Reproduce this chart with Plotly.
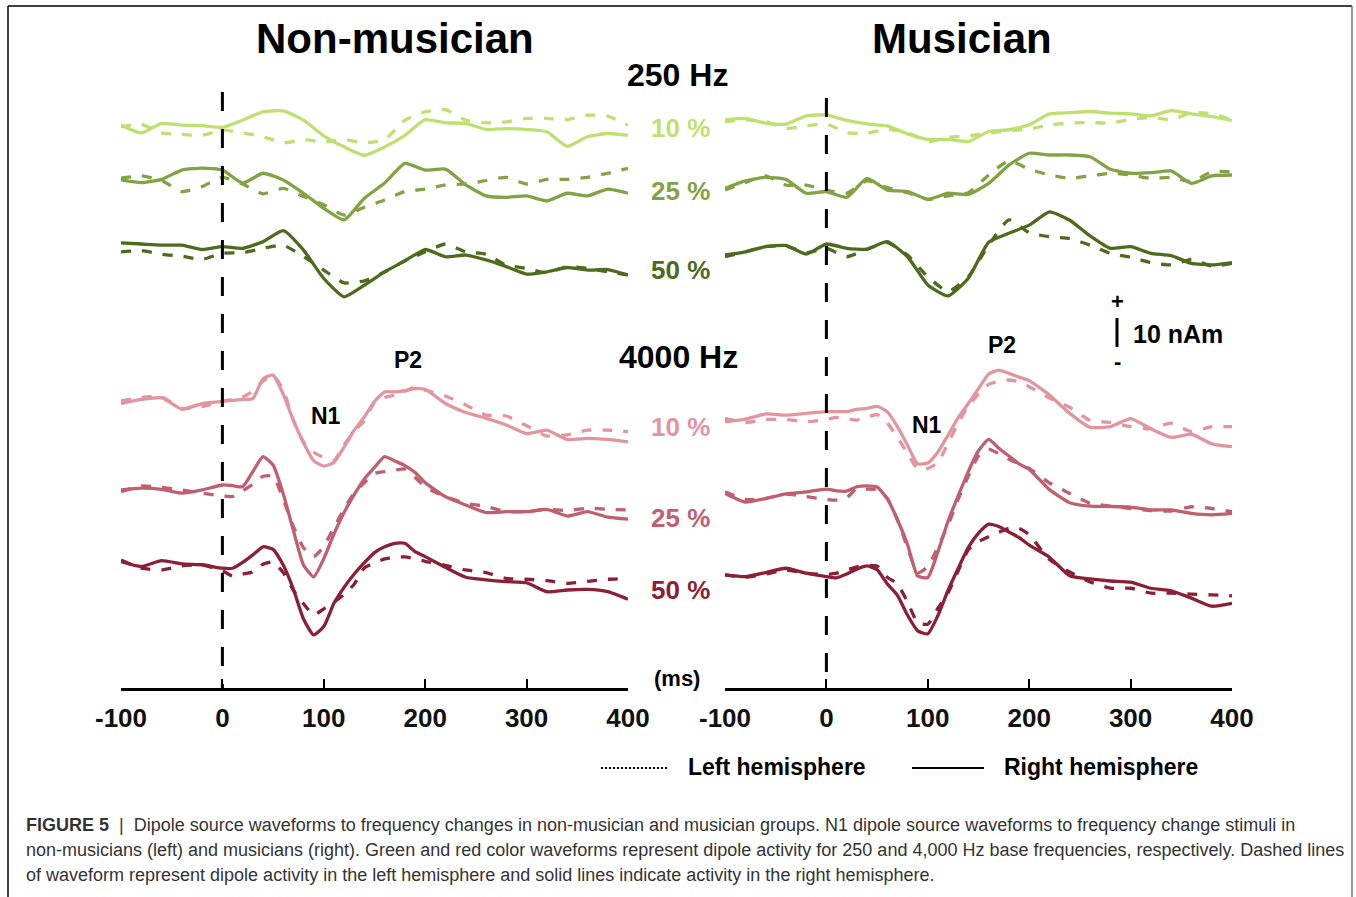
import plotly.graph_objects as go

W, H = 1356, 897
FONT = "Liberation Sans, Arial, sans-serif"

# ---------------- DATA (amplitudes in nAm, time in ms) ----------------
time_250 = [-100, -80, -60, -40, -20, 0, 20, 40, 60, 80, 100, 120, 140, 160, 180,
            200, 220, 240, 260, 280, 300, 320, 340, 360, 380, 400]
time_4000 = [-100, -80, -60, -40, -20, 0, 10, 20, 30, 40, 50, 60, 70, 80, 90, 100,
             110, 120, 130, 140, 150, 160, 170, 180, 190, 200, 220, 240, 260, 280,
             300, 320, 340, 360, 380, 400]
tick_vals = [-100, 0, 100, 200, 300, 400]
conditions = ["10 %", "25 %", "50 %"]

# Non-musician, 250 Hz (R = right hemisphere, solid; L = left hemisphere, dashed)
nm250_10_R = [0.7, -2.0, 1.3, 0.7, 0.5, -0.1, 2.4, 5.3, 5.6, 2.4, -3.0, -6.8, -9.7, -6.8, -2.8,
              2.6, 1.5, 1.3, -0.8, -0.5, -0.8, -1.6, -6.6, -3.3, -2.2, -2.8]
nm250_10_L = [0.1, 1.0, -2.0, -2.5, -2.8, -1.0, -2.0, -3.3, -5.4, -4.3, -5.1, -4.3, -5.4, -4.3, 2.4,
              5.3, 6.0, 2.4, 1.5, 1.8, 3.0, 3.0, 2.6, 4.1, 3.8, 0.7]
nm250_25_R = [0, -0.9, 0.2, 3.4, 4.1, 3.4, -1.1, 2.3, 0, -4.6, -9.8, -13.8, -6.3, -1.1, 5.7,
              3.4, 3.7, -1.7, -5.5, -6.0, -5.5, -7.2, -4.6, -5.5, -3.2, -4.6]
nm250_25_L = [0.6, 1.4, -0.2, -4.0, -2.3, 0.9, -1.4, -4.8, -2.9, -5.7, -8.6, -12.1, -9.4, -6.9, -4.0,
              -3.2, -1.7, -1.4, -0.2, 0.9, -1.4, 0.2, 0.2, 0.9, 2.3, 4.0]
nm250_50_R = [0.2, -0.2, -0.6, -0.6, -2.1, -1.1, -1.7, 0.6, 4.4, -2.3, -12.1, -18.4, -14.4, -9.8, -6.0,
              -2.1, -4.6, -4.0, -5.7, -8.0, -10.6, -9.8, -8.3, -9.2, -9.0, -10.9]
nm250_50_L = [-2.9, -2.5, -3.7, -4.4, -5.5, -3.4, -3.2, -1.7, -0.6, -4.6, -9.2, -13.6, -12.9, -9.8, -6.0,
              -2.9, -0.2, -2.9, -3.7, -7.5, -8.6, -10.1, -8.0, -8.6, -9.8, -10.9]

# Musician, 250 Hz
m250_10_R = [0, 0.5, -1.1, -1.5, 1.4, 1.7, -0.2, -1.4, -2.1, -4.8, -6.7, -6.7, -7.5, -4.0, -3.4,
             -1.7, 2.1, 2.5, 2.9, 2.3, 2.1, 1.4, 3.2, 2.1, 1.1, -0.2]
m250_10_L = [-0.6, 0, -0.6, -2.9, -2.1, -1.4, -4.4, -4.6, -3.2, -4.4, -7.5, -6.0, -5.5, -4.6, -3.7,
             -3.2, -1.7, -1.1, -0.9, -1.1, 0.2, 0.9, 0, 2.5, 2.1, 0]
m250_25_R = [0, 2.6, 3.8, 3.1, -1.7, -1.1, -3.1, 3.4, -0.6, -1.1, -3.8, -1.7, -2.1, 1.7, 8.0,
             12.1, 11.5, 11.5, 10.9, 6.6, 5.2, 5.4, 6.0, 1.7, 4.3, 4.6]
m250_25_L = [-0.6, 2.0, 4.3, 1.1, 1.1, -0.6, -1.7, 2.6, 0.3, -1.5, -3.8, -2.6, -1.5, 4.6, 9.5,
             6.6, 4.6, 3.4, 4.3, 5.2, 4.6, 3.4, 3.8, 2.3, 5.7, 5.7]
m250_50_R = [0, 1.1, 2.9, 3.3, 0.3, 3.8, 2.3, 2.0, 4.6, -0.6, -10.3, -14.1, -8.0, 4.4, 7.5,
             10.3, 14.9, 12.0, 6.6, 2.3, 2.9, 0.6, -0.2, -2.9, -3.4, -2.6]
m250_50_L = [-0.6, 1.1, 2.9, 3.1, 0.8, 2.3, -0.6, 2.0, 4.3, 0, -7.5, -12.6, -7.5, 3.4, 12.1,
             7.7, 6.3, 5.7, 3.4, 0.6, -0.8, -2.6, -3.4, -1.5, -3.8, -2.9]

# Non-musician, 4000 Hz
nm4000_10_R = [-0.6, 0.8, 1.4, -2.6, -0.6,
               0.1, 0.5, 0.8, 1.1, 7.9, 9.2, 2.6, -6.4, -14.1, -20.3, -22.2, -20.9, -15.6, -9.8, -5.2,
               0.1, 3.4, 3.4, 3.8, 4.5, 4.3,
               -0.6, -3.7, -5.7, -8.0, -11.0, -9.8, -13.0, -12.6, -13.0, -13.8]
nm4000_10_L = [0.3, 1.5, 1.7, -2.3, -1.7,
               0.2, 0.8, 1.6, 3.7, 7.1, 9.1, 4.1, -6.4, -13.9, -17.4, -19.2, -20.3, -14.8, -10.1, -6.6,
               -0.2, 1.5, 2.3, 3.6, 5.1, 4.0,
               2.0, -1.1, -4.6, -4.9, -8.3, -11.8, -11.4, -9.8, -9.8, -10.3]
nm4000_25_R = [0, 0.6, 0.2, -1.1, 0,
               1.7, 1.5, 1.1, 6.3, 11.5, 8.6, -1.3, -14.0, -25.9, -30.0, -23.7, -15.2, -7.8, -1.6, 3.8,
               7.8, 11.5, 10.0, 8.4, 6.0, 2.5,
               -2.3, -5.2, -7.8, -7.5, -7.5, -6.7, -9.0, -7.5, -9.4, -10.1]
nm4000_25_L = [-0.6, 1.4, 0.9, 0, -1.1,
               -2.1, -2.3, -0.3, 2.0, 4.7, 4.8, -3.2, -12.6, -19.9, -23.0, -19.5, -12.9, -6.6, -1.0, 2.5,
               5.7, 6.3, 6.8, 7.2, 4.4, 0.9,
               -2.3, -4.6, -5.7, -7.5, -7.5, -6.7, -7.1, -6.3, -6.7, -6.9]
nm4000_50_R = [0.6, -1.1, 0.9, -0.2, -0.5,
               -1.7, -1.7, 0.3, 2.9, 5.7, 4.8, -0.6, -8.9, -19.2, -24.7, -21.8, -13.8, -8.3, -3.7, 0.2,
               3.7, 5.7, 6.9, 6.9, 4.0, 2.3,
               -1.4, -4.8, -5.7, -6.3, -6.7, -9.8, -9.2, -9.0, -9.8, -12.4]
nm4000_50_L = [1.1, -1.7, -2.3, -0.9, -0.6,
               -2.6, -4.4, -3.7, -3.0, -0.3, 0.5, -3.2, -9.3, -13.9, -17.8, -15.7, -13.4, -10.8, -7.2, -1.6,
               0.2, 1.5, 2.2, 2.2, 1.6, 0.7,
               -0.7, -2.3, -3.2, -5.2, -5.5, -6.0, -6.9, -6.2, -5.5, -5.2]

# Musician, 4000 Hz
m4000_10_R = [-0.6, 0.3, 2.1, 1.7, 2.3,
              2.9, 2.9, 2.9, 3.7, 4.0, 4.7, 2.9, -2.3, -8.7, -15.1, -14.8, -11.0, -5.2, 0.8, 5.7,
              10.8, 15.9, 17.2, 16.1, 14.8, 13.6,
              8.6, 2.3, -2.5, -2.3, 0.5, -3.0, -6.0, -4.9, -8.2, -9.2]
m4000_10_L = [0.6, -0.9, 0.2, 0.2, -0.6,
              0.2, 0.9, 0.5, 0, 1.0, 1.9, -1.0, -5.9, -11.5, -16.8, -16.7, -14.7, -7.9, -1.1, 4.9,
              8.9, 12.3, 13.4, 13.8, 13.2, 11.5,
              7.6, 4.4, -0.1, -0.8, -2.3, -3.0, -1.1, -4.0, -2.3, -2.3]
m4000_25_R = [0, -3.0, -1.8, -0.2, 0.5,
              1.5, 0.9, 0.8, 2.3, 2.6, 2.2, -1.8, -9.0, -17.6, -28.5, -29.0, -20.1, -9.5, -0.8, 7.6,
              14.7, 18.6, 15.6, 12.9, 10.2, 8.3,
              1.3, -3.2, -4.4, -4.5, -4.7, -5.7, -5.7, -6.9, -7.4, -6.9]
m4000_25_L = [0.6, -2.1, -1.7, -0.2, -1.1,
              -2.1, -2.3, -1.5, 1.7, 1.5, 1.3, -1.7, -9.1, -18.7, -27.4, -25.3, -18.4, -10.9, -2.0, 6.0,
              12.9, 15.3, 13.7, 11.8, 10.2, 8.6,
              3.6, 0, -3.4, -4.4, -5.2, -5.9, -6.1, -4.6, -5.2, -6.3]
m4000_50_R = [0, -0.6, 0.8, 2.3, 0.6,
              -0.6, -1.0, 0.3, 2.0, 3.1, 1.8, -3.1, -7.0, -13.9, -19.3, -20.3, -14.0, -5.3, 2.3, 9.5,
              14.4, 17.5, 16.7, 14.8, 12.9, 10.3,
              6.1, -0.3, -1.4, -2.1, -2.5, -4.6, -5.5, -8.0, -10.8, -9.8]
m4000_50_L = [0, -0.8, 0.3, 1.7, 0.6,
              0.1, 0.6, 1.7, 2.8, 3.3, 3.1, -0.8, -3.1, -9.3, -16.5, -17.0, -11.5, -6.2, 1.4, 8.7,
              11.5, 13.2, 14.7, 16.1, 16.0, 13.8,
              5.3, 1.0, -2.4, -4.6, -4.6, -6.3, -6.3, -6.6, -6.9, -7.2]

caption_lines = [
    "<b>FIGURE 5</b>  |  Dipole source waveforms to frequency changes in non-musician and musician groups. N1 dipole source waveforms to frequency change stimuli in",
    "non-musicians (left) and musicians (right). Green and red color waveforms represent dipole activity for 250 and 4,000 Hz base frequencies, respectively. Dashed lines",
    "of waveform represent dipole activity in the left hemisphere and solid lines indicate activity in the right hemisphere.",
]

# ---------------- STYLE / LAYOUT ----------------
colors = {
    ("250", "10 %"): "#bfe070", ("250", "25 %"): "#82a243", ("250", "50 %"): "#4e6a1c",
    ("4000", "10 %"): "#e2959f", ("4000", "25 %"): "#bf5f70", ("4000", "50 %"): "#8a1f36",
}
# vertical stacking offsets (nAm units on the hidden y axis)
offsets = {
    "x": {("250", "10 %"): 193.4, ("250", "25 %"): 175.2, ("250", "50 %"): 153.3,
          ("4000", "10 %"): 98.7, ("4000", "25 %"): 68.3, ("4000", "50 %"): 43.0},
    "x2": {("250", "10 %"): 195.9, ("250", "25 %"): 172.3, ("250", "50 %"): 149.3,
           ("4000", "10 %"): 92.4, ("4000", "25 %"): 67.1, ("4000", "50 %"): 39.0},
}

panels = {
    "x": {("250", "10 %"): (nm250_10_L, nm250_10_R), ("250", "25 %"): (nm250_25_L, nm250_25_R),
          ("250", "50 %"): (nm250_50_L, nm250_50_R), ("4000", "10 %"): (nm4000_10_L, nm4000_10_R),
          ("4000", "25 %"): (nm4000_25_L, nm4000_25_R), ("4000", "50 %"): (nm4000_50_L, nm4000_50_R)},
    "x2": {("250", "10 %"): (m250_10_L, m250_10_R), ("250", "25 %"): (m250_25_L, m250_25_R),
           ("250", "50 %"): (m250_50_L, m250_50_R), ("4000", "10 %"): (m4000_10_L, m4000_10_R),
           ("4000", "25 %"): (m4000_25_L, m4000_25_R), ("4000", "50 %"): (m4000_50_L, m4000_50_R)},
}

fig = go.Figure()
for xa, series in panels.items():
    for key, (left, right) in series.items():
        tt = time_250 if key[0] == "250" else time_4000
        off = offsets[xa][key]
        col = colors[key]
        fig.add_trace(go.Scatter(x=tt, y=[off + v for v in left], xaxis=xa, yaxis="y", mode="lines",
                                 line=dict(color=col, width=3.3, dash="10px,11px", shape="spline", smoothing=0.5),
                                 showlegend=False, hoverinfo="skip"))
        fig.add_trace(go.Scatter(x=tt, y=[off + v for v in right], xaxis=xa, yaxis="y", mode="lines",
                                 line=dict(color=col, width=3.3, shape="spline", smoothing=0.5),
                                 showlegend=False, hoverinfo="skip"))


def px(x):
    return x / W


def py(y):
    return 1 - y / H


Y_AXIS_PX, Y_TOP_PX, PX_PER_NAM = 688, 88, 2.9
ydom = [py(Y_AXIS_PX), py(Y_TOP_PX)]
yrange = [0, (Y_AXIS_PX - Y_TOP_PX) / PX_PER_NAM]

xaxis_common = dict(range=[-100, 400], tickvals=tick_vals, ticktext=[str(v) for v in tick_vals],
                    showline=True, linecolor="black", linewidth=3, ticks="inside", ticklen=9,
                    tickwidth=2, tickcolor="black", showgrid=False, zeroline=False,
                    tickfont=dict(family=FONT, size=26, color="#111", weight="bold"),
                    ticklabelstandoff=5, anchor="y", fixedrange=True, automargin=False)

annotations = []


def label(text, x, y, size, color="black", xanchor="center", bold=True):
    annotations.append(dict(text=f"<b>{text}</b>" if bold else text, x=px(x), y=py(y),
                            xref="paper", yref="paper", xanchor=xanchor, yanchor="middle",
                            showarrow=False, font=dict(family=FONT, size=size, color=color)))


label("Non-musician", 395, 39, 42)
label("Musician", 962, 39, 42)
label("250 Hz", 677, 75, 32)
label("4000 Hz", 678, 357, 32)
lab_y = {("250", "10 %"): 128, ("250", "25 %"): 191, ("250", "50 %"): 270,
         ("4000", "10 %"): 427, ("4000", "25 %"): 518, ("4000", "50 %"): 590}
for key, yy in lab_y.items():
    label(key[1], 681, yy, 26, colors[key])
label("N1", 326, 416, 23)
label("P2", 408, 360, 23)
label("N1", 927, 425, 23)
label("P2", 1002, 345, 23)
label("+", 1117, 302, 22)
label("-", 1117, 361, 22)
label("10 nAm", 1131, 334, 25, xanchor="left")
label("(ms)", 677, 678, 22)
label("Left hemisphere", 686, 767, 23, xanchor="left")
label("Right hemisphere", 1002, 767, 23, xanchor="left")
for i, line in enumerate(caption_lines):
    annotations.append(dict(text=line, x=px(24), y=py(825 + 25 * i), xref="paper", yref="paper",
                            xanchor="left", yanchor="middle", showarrow=False,
                            font=dict(family=FONT, size=18, color="#333333")))

shapes = [
    # stimulus onset dashed lines
    dict(type="line", xref="x", yref="y", x0=0, x1=0, y0=(Y_AXIS_PX - 92) / PX_PER_NAM, y1=0,
         line=dict(color="black", width=3, dash="19px,18px")),
    dict(type="line", xref="x2", yref="y", x0=0, x1=0, y0=(Y_AXIS_PX - 98) / PX_PER_NAM, y1=0,
         line=dict(color="black", width=3, dash="19px,18px")),
    # scale bar
    dict(type="line", xref="paper", yref="paper", x0=px(1117), x1=px(1117), y0=py(318), y1=py(347),
         line=dict(color="black", width=3)),
    # legend samples
    dict(type="line", xref="paper", yref="paper", x0=px(601), x1=px(669), y0=py(768), y1=py(768),
         line=dict(color="black", width=2, dash="2px,2px")),
    dict(type="line", xref="paper", yref="paper", x0=px(912), x1=px(984), y0=py(768), y1=py(768),
         line=dict(color="black", width=2)),
    # frame
    dict(type="line", xref="paper", yref="paper", x0=px(8), x1=px(1352), y0=py(6), y1=py(6),
         line=dict(color="black", width=1.5)),
    dict(type="line", xref="paper", yref="paper", x0=px(8), x1=px(8), y0=py(6), y1=py(900),
         line=dict(color="black", width=1.5)),
    dict(type="line", xref="paper", yref="paper", x0=px(1352), x1=px(1352), y0=py(6), y1=py(900),
         line=dict(color="#777777", width=1.5)),
]

fig.update_layout(
    width=W, height=H, margin=dict(l=0, r=0, t=0, b=0, pad=0, autoexpand=False),
    paper_bgcolor="white", plot_bgcolor="white", showlegend=False,
    xaxis=dict(domain=[px(121), px(628)], **xaxis_common),
    xaxis2=dict(domain=[px(725), px(1232)], **xaxis_common),
    yaxis=dict(domain=ydom, range=yrange, visible=False, fixedrange=True),
    annotations=annotations, shapes=shapes,
)

fig.write_html("out.html", config={"displayModeBar": False})
